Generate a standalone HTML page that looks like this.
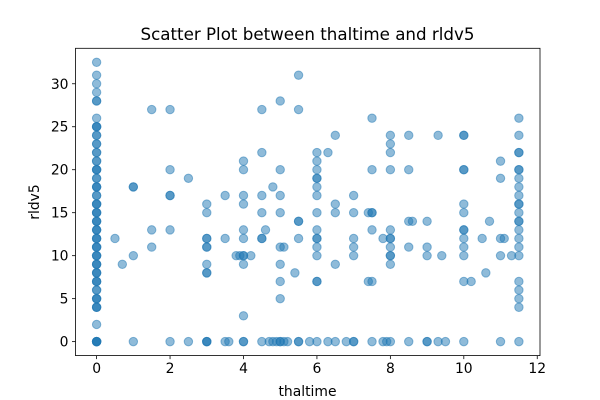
<!DOCTYPE html>
<html><head><meta charset="utf-8"><style>
html,body{margin:0;padding:0;background:#fff;}
svg{display:block;font-family:"DejaVu Sans","Liberation Sans",sans-serif;}
</style></head><body>
<svg id="chart" width="600" height="400" viewBox="0 0 600 400">
<rect width="600" height="400" fill="#fff"/>
<text x="307.5" y="40" text-anchor="middle" font-size="16.7" fill="#000">Scatter Plot between thaltime and rldv5</text>
<g id="points"></g>
<g id="axes"></g>
<text x="307.5" y="396" text-anchor="middle" font-size="13.9">thaltime</text>
<text transform="translate(39,202) rotate(-90)" text-anchor="middle" font-size="13.9">rldv5</text>
</svg>
<script>
const xTicks=[0,2,4,6,8,10,12];
const yTicks=[0,5,10,15,20,25,30];
const xs=[0,0,0,0,0,0,0,0,0,0,0,0,0,0,0,0,0,0,0,0,0,0,0,0,0,0,0,0,0,0,0,0,0,0,0,0,0,0,0,0,0,0,0,0,0,0,0,0,0,
0,0,0,0,0,0,0,0,0,0,0,0,0,0,0,0,0,0,0,0,0,0,0,
0.5,0.7,1,1,1,1,1.5,1.5,1.5,2,2,2,2,2,2,2.5,2.5,3,3,3,3,3,3,3,3,3,3,3,3,3.5,3.5,3.5,3.6,3.8,3.9,4,4,4,4,4,4,4,4,4,4,4,4,4.2,
4.5,4.5,4.5,4.5,4.5,4.5,4.5,4.6,4.7,4.8,4.8,4.9,5,5,5,5,5,5,5,5,5,5,5.1,5.1,5.2,5.4,5.5,5.5,5.5,5.5,5.5,5.5,5.5,5.8,
6,6,6,6,6,6,6,6,6,6,6,6,6,6,6,6,6.3,6.3,6.5,6.5,6.5,6.5,6.5,6.8,7,7,7,7,7,7,7,7.4,7.4,7.5,7.5,7.5,7.5,7.5,7.5,7.5,7.8,7.8,7.9,
8,8,8,8,8,8,8,8,8,8,8,8,8.5,8.5,8.5,8.5,8.5,8.6,9,9,9,9,9,9.3,9.3,9.4,9.5,10,10,10,10,10,10,10,10,10,10,10,10,10,10.2,10.5,10.6,10.7,
11,11,11,11,11,11.1,11.3,11.5,11.5,11.5,11.5,11.5,11.5,11.5,11.5,11.5,11.5,11.5,11.5,11.5,11.5,11.5,11.5,11.5,11.5,11.5,11.5,11.5,11.5,11.5];
const ys=[0,0,0,0,2,4,4,5,5,6,7,7,8,8,9,9,10,10,11,11,12,12,13,13,14,14,15,15,16,16,17,18,18,19,20,20,21,22,23,24,25,25,26,28,28,29,30,31,32.5,
0,4,5,6,7,8,9,10,11,12,13,14,15,16,17,18,19,20,21,22,23,24,25,
12,9,10,18,18,0,27,13,11,27,20,17,17,13,0,19,0,16,15,12,12,11,11,9,8,8,0,0,0,17,12,0,0,10,10,21,20,17,16,13,12,10,10,9,3,0,0,10,
27,22,17,15,12,12,0,13,0,18,0,0,28,20,17,15,11,9,7,5,0,0,11,0,0,8,31,27,14,14,12,0,0,0,
22,21,20,19,19,18,17,15,13,12,12,11,10,7,7,0,22,0,24,16,15,9,0,0,17,15,12,11,10,0,0,15,7,26,20,15,15,13,7,0,12,0,0,
24,23,22,20,13,12,12,11,10,10,9,0,24,20,14,11,0,14,14,11,10,0,0,24,0,10,0,24,24,20,20,16,15,13,13,12,11,10,7,0,7,12,8,14,
21,19,12,10,0,12,10,26,24,22,22,20,20,19,18,17,16,16,15,14,14,13,12,11,10,7,6,5,4,0,0];
const L=75.5,R=540,T=48.3,B=355.6,xmin=-0.575,xmax=12.075,ymin=-1.625,ymax=34.125;
const sx=v=>L+(v-xmin)/(xmax-xmin)*(R-L);
const sy=v=>B-(v-ymin)/(ymax-ymin)*(B-T);
const NS="http://www.w3.org/2000/svg";
const pg=document.getElementById('points');
const n=Math.min(xs.length,ys.length);
for(let i=0;i<n;i++){
const c=document.createElementNS(NS,'circle');
c.setAttribute('cx',sx(xs[i]));c.setAttribute('cy',sy(ys[i]));c.setAttribute('r',4.2);
c.setAttribute('fill','#1f77b4');c.setAttribute('fill-opacity','0.5');
c.setAttribute('stroke','#1f77b4');c.setAttribute('stroke-opacity','0.5');c.setAttribute('stroke-width','1');


pg.appendChild(c);}
const ag=document.getElementById('axes');
const fr=document.createElementNS(NS,'rect');
fr.setAttribute('x',L);fr.setAttribute('y',T);fr.setAttribute('width',R-L);fr.setAttribute('height',B-T);
fr.setAttribute('fill','none');fr.setAttribute('stroke','#000');fr.setAttribute('stroke-width','0.8');


ag.appendChild(fr);
xTicks.forEach(t=>{const x=sx(t);
const l=document.createElementNS(NS,'line');l.setAttribute('x1',x);l.setAttribute('x2',x);l.setAttribute('y1',B);l.setAttribute('y2',B+3.5);l.setAttribute('stroke','#000');l.setAttribute('stroke-width','0.8');


ag.appendChild(l);
const tx=document.createElementNS(NS,'text');tx.setAttribute('x',x);tx.setAttribute('y',B+17.5);tx.setAttribute('text-anchor','middle');tx.setAttribute('font-size','13.9');tx.textContent=t;


ag.appendChild(tx);});
yTicks.forEach(t=>{const y=sy(t);
const l=document.createElementNS(NS,'line');l.setAttribute('x1',L-3.5);l.setAttribute('x2',L);l.setAttribute('y1',y);l.setAttribute('y2',y);l.setAttribute('stroke','#000');l.setAttribute('stroke-width','0.8');


ag.appendChild(l);
const tx=document.createElementNS(NS,'text');tx.setAttribute('x',L-7);tx.setAttribute('y',y+5);tx.setAttribute('text-anchor','end');tx.setAttribute('font-size','13.9');tx.textContent=t;


ag.appendChild(tx);});
</script>
</body></html>
